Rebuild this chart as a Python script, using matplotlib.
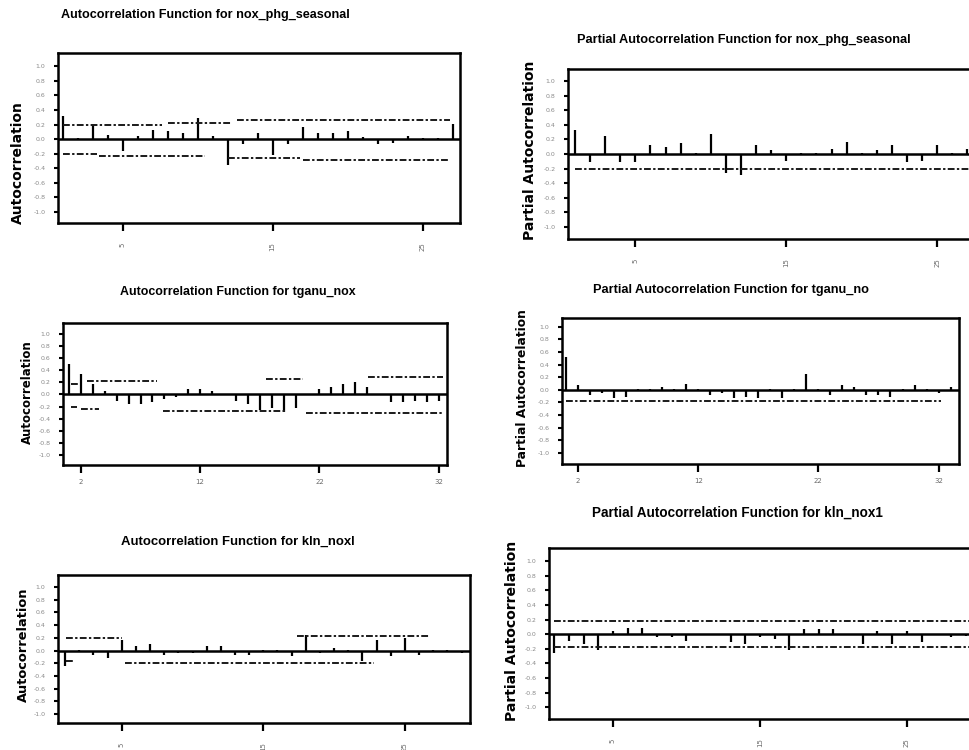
import matplotlib
matplotlib.use("Agg")
import numpy as np
import matplotlib.pyplot as plt

# ---- data ----
# ACF nox_phg_seasonal
nox_acf_lags = list(range(1, 28))
nox_acf = [0.31, 0.01, 0.20, 0.06, -0.17, 0.04, 0.13, 0.11, 0.08, 0.29, 0.04, -0.35, -0.07, 0.08,
           -0.22, -0.07, 0.17, 0.08, 0.08, 0.11, 0.03, -0.07, -0.05, 0.04, 0.01, 0.01, 0.21]
nox_acf_upper = [(1, 7.6, 0.20), (8.0, 12.3, 0.225), (12.6, 26.8, 0.26)]
nox_acf_lower = [(1, 3.3, -0.21), (3.4, 10.5, -0.235), (12.0, 16.8, -0.26), (17.0, 26.8, -0.285)]

# PACF nox_phg_seasonal
nox_pacf_lags = list(range(1, 28))
nox_pacf = [0.33, -0.11, 0.25, -0.11, -0.11, 0.12, 0.10, 0.15, 0.01, 0.28, -0.26, -0.29, 0.12, 0.05,
            -0.09, 0.01, 0.01, 0.07, 0.17, 0.01, 0.05, 0.12, -0.11, -0.09, 0.12, 0.01, 0.07]
nox_pacf_upper = []
nox_pacf_lower = [(1, 27.5, -0.20)]

# ACF tganu_nox
tg_acf_lags = list(range(1, 33))
tg_acf = [0.51, 0.33, 0.17, 0.05, -0.10, -0.165, -0.165, -0.13, -0.08, -0.05, 0.09, 0.09, 0.05, 0.01,
          -0.10, -0.165, -0.26, -0.225, -0.29, -0.225, 0.01, 0.09, 0.115, 0.17, 0.21, 0.115, 0.01,
          -0.13, -0.13, -0.10, -0.13, -0.10]
tg_acf_upper = [(1.15, 1.9, 0.18), (2.5, 8.4, 0.22), (17.5, 20.6, 0.25), (26.1, 32.4, 0.28)]
tg_acf_lower = [(1.2, 1.7, -0.20), (2.0, 3.5, -0.24), (8.9, 19.2, -0.27), (20.9, 32.4, -0.30)]

# PACF tganu_no
tg_pacf_lags = list(range(1, 34))
tg_pacf = [0.52, 0.07, -0.08, -0.05, -0.13, -0.11, 0.01, 0.01, 0.04, 0.01, 0.095, 0.01, -0.08, -0.05,
           -0.13, -0.11, -0.13, 0.01, -0.13, 0.01, 0.25, 0.01, -0.08, 0.07, 0.04, -0.08, -0.08, -0.11,
           0.01, 0.07, 0.01, -0.05, 0.04]
tg_pacf_upper = []
tg_pacf_lower = [(1, 32.2, -0.185)]

# ACF kln_noxl
kl_acf_lags = list(range(1, 30))
kl_acf = [-0.25, 0.01, -0.07, -0.12, 0.16, 0.08, 0.10, -0.07, -0.04, -0.04, 0.08, 0.08, -0.07, -0.07,
          0.01, 0.01, -0.09, 0.25, -0.04, 0.04, 0.01, -0.16, 0.16, -0.09, 0.20, -0.07, 0.01, 0.01, -0.04]
kl_acf_upper = [(1.1, 5.0, 0.20), (17.4, 26.8, 0.235)]
kl_acf_lower = [(1.1, 1.6, -0.17), (5.2, 22.8, -0.20)]

# PACF kln_nox1
kl_pacf_lags = list(range(1, 30))
kl_pacf = [-0.26, -0.09, -0.14, -0.21, 0.05, 0.09, 0.09, -0.04, -0.04, -0.09, 0.01, 0.01, -0.11, -0.14,
           -0.04, -0.06, -0.21, 0.07, 0.07, 0.07, 0.01, -0.14, 0.05, -0.14, 0.04, -0.11, 0.01, -0.04, -0.02]
kl_pacf_upper = [(1, 29.5, 0.18)]
kl_pacf_lower = [(1, 29.5, -0.18)]

ytick_vals = [1.0, 0.8, 0.6, 0.4, 0.2, 0.0, -0.2, -0.4, -0.6, -0.8, -1.0]
ytick_labels = ["1.0", "0.8", "0.6", "0.4", "0.2", "0.0", "-0.2", "-0.4", "-0.6", "-0.8", "-1.0"]

W, H = 969, 750


def px_axes(fig, left, top, right, bottom):
    return fig.add_axes([left / W, 1 - bottom / H, (right - left) / W, (bottom - top) / H])


def draw_panel(ax, lags, vals, upper, lower, xticks, xlim, ylim, rot):
    ax.vlines(lags, 0, vals, color="black", lw=1.6)
    ax.axhline(0, color="black", lw=1.8)
    for segs in (upper, lower):
        for a, b, v in segs:
            ax.plot([a, b], [v, v], color="#1a1a1a", lw=1.4, linestyle=(0, (3.5, 1.2, 1.2, 1.2)))
    ax.set_xlim(*xlim)
    ax.set_ylim(*ylim)
    ax.set_yticks(ytick_vals)
    ax.set_yticklabels(ytick_labels, fontsize=4.5, color="#8a8a8a")
    ax.set_xticks(xticks)
    ax.set_xticklabels([str(t) for t in xticks], fontsize=5, color="#6a6a6a",
                       rotation=90 if rot else 0)
    ax.tick_params(axis="y", length=3, width=1.5, pad=6)
    ax.tick_params(axis="x", length=6, width=1.6, pad=8 if rot else 4)
    for s in ax.spines.values():
        s.set_linewidth(1.8)


fig = plt.figure(figsize=(9.69, 7.5), dpi=100)

ax1 = px_axes(fig, 58, 53, 460, 223)
draw_panel(ax1, nox_acf_lags, nox_acf, nox_acf_upper, nox_acf_lower, [5, 15, 25],
           (0.67, 27.5), (-1.15, 1.18), True)
ax2 = px_axes(fig, 568, 69, 975, 239)
draw_panel(ax2, nox_pacf_lags, nox_pacf, nox_pacf_upper, nox_pacf_lower, [5, 15, 25],
           (0.54, 27.5), (-1.17, 1.17), True)
ax3 = px_axes(fig, 63, 323, 447, 465)
draw_panel(ax3, tg_acf_lags, tg_acf, tg_acf_upper, tg_acf_lower, [2, 12, 22, 32],
           (0.5, 32.7), (-1.165, 1.18), False)
ax4 = px_axes(fig, 562, 318, 959, 464)
draw_panel(ax4, tg_pacf_lags, tg_pacf, tg_pacf_upper, tg_pacf_lower, [2, 12, 22, 32],
           (0.67, 33.7), (-1.18, 1.14), False)
ax5 = px_axes(fig, 58, 575, 470, 723)
draw_panel(ax5, kl_acf_lags, kl_acf, kl_acf_upper, kl_acf_lower, [5, 15, 25],
           (0.5, 29.6), (-1.14, 1.19), True)
ax6 = px_axes(fig, 549, 548, 973, 719)
draw_panel(ax6, kl_pacf_lags, kl_pacf, kl_pacf_upper, kl_pacf_lower, [5, 15, 25],
           (0.65, 29.5), (-1.16, 1.18), True)

# titles: (text, centre x px, centre y px, target width px)
titles = [
    ("Autocorrelation Function for nox_phg_seasonal", 205, 15, 256),
    ("Partial Autocorrelation Function for nox_phg_seasonal", 744, 40, 298),
    ("Autocorrelation Function for tganu_nox", 238, 292, 209),
    ("Partial Autocorrelation Function for tganu_no", 731, 290, 247),
    ("Autocorrelation Function for kln_noxl", 238, 542, 210),
    ("Partial Autocorrelation Function for kln_nox1", 737, 513, 259),
]
fig.canvas.draw()
renderer = fig.canvas.get_renderer()
for txt, x, y, target in titles:
    t = fig.text(x / W, 1 - y / H, txt, ha="center", va="center", fontsize=10,
                 fontweight="bold", family=["Liberation Sans", "DejaVu Sans"])
    w = t.get_window_extent(renderer).width
    t.set_fontsize(10 * 1.12 * target / w)

ylabels = [
    ("Autocorrelation", 18, 163, 10),
    ("Partial Autocorrelation", 530, 150, 10),
    ("Autocorrelation", 27, 392, 8.5),
    ("Partial Autocorrelation", 522, 388, 8.8),
    ("Autocorrelation", 23, 645, 9.4),
    ("Partial Autocorrelation", 512, 631, 10.1),
]
for txt, x, y, fs in ylabels:
    fig.text(x / W, 1 - y / H, txt, ha="center", va="center", rotation=90,
             fontsize=fs, fontweight="bold", family=["DejaVu Sans"])

fig.savefig("out.png", dpi=100)
